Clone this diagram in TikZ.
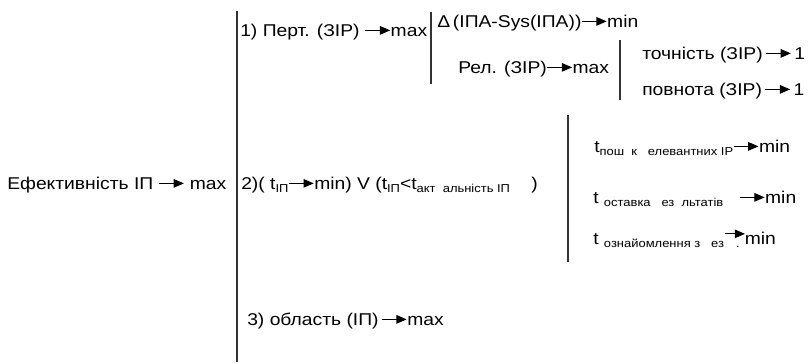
\documentclass[tikz,border=0pt]{standalone}
\usepackage{fontspec}
\setmainfont[FakeStretch=1.13]{Liberation Sans}
\usepackage{tikz}
\usetikzlibrary{arrows.meta}

\newcommand{\arr}[1][1.45em]{\tikz[baseline=-0.33em]\draw[line width=0.8pt,-{Triangle[length=0.6em,width=0.5em]}] (0,0) -- (#1,0);}
\newcommand{\lowtxt}[1]{\raisebox{-0.35ex}{\fontsize{8.6}{9}\selectfont #1}}

\begin{document}
\begin{tikzpicture}[x=0.75pt,y=-0.75pt,
    every node/.style={anchor=base west,inner sep=0pt,font=\fontsize{12.8}{14}\selectfont},
    bar/.style={line width=1.3pt,black!80}]
  \useasboundingbox (0,0) rectangle (808,362);
  \draw[bar] (237,11) -- (237,362);
  \draw[bar] (431,12) -- (431,84);
  \draw[bar] (620,40) -- (620,100);
  \draw[bar] (568,115) -- (568,262);
  \node (eff) at (7,189) {Ефективність ІП \arr\ max};
  \node (pert) at (240,36) {1) Перт. (ЗІР) \arr max};
  \node (delta) at (437,27) {Δ\,(ІПА-Sys(ІПА))\arr min};
  \node (rel) at (458,73) {Рел. (ЗІР)\arr max};
  \node (acc) at (642,59) {точність (ЗІР)\,\arr\,1};
  \node (compl) at (642,95) {повнота (ЗІР)\,\arr\,1};
  \node (time) at (241,189) {2)( t\lowtxt{ІП}\arr min) V (t\lowtxt{ІП}<t\lowtxt{акт\ \ альність ІП}\ \ \ \ )};
  \node (tsearch) at (594,152) {t\lowtxt{пош\ \ к\ \ \ елевантних ІР}\arr min};
  \node (tdeliv) at (593,203) {t \lowtxt{оставка\ \ \ ез\ \ льтатів}\ \ \ \arr min};
  \node (tread) at (593,244) {t \lowtxt{ознайомлення з\ \ \ ез}\raisebox{0.5ex}{\arr[1.2em]}\kern-0.55em\lowtxt{.}\kern0.3em min};
  \node (area) at (247,325) {3) область (ІП)\,\arr max};
\end{tikzpicture}
\end{document}
